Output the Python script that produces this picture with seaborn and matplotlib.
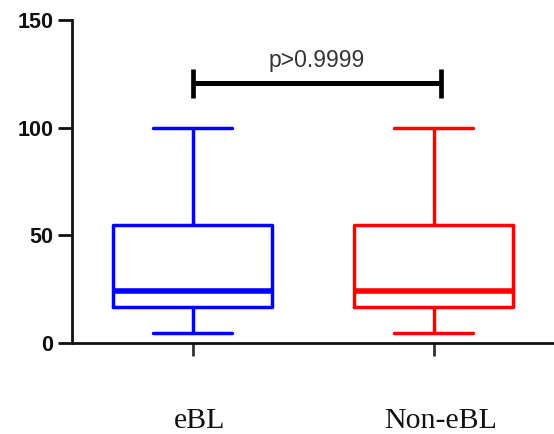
import numpy as np
import pandas as pd
import seaborn as sns
import matplotlib
matplotlib.use("Agg")
import matplotlib.pyplot as plt
import matplotlib.transforms as mtransforms

# ---- data ----
groups = ["eBL", "Non-eBL"]
ebl_values = [4.5, 16.5, 24, 55, 100]       # min, q1, median, q3, max
non_ebl_values = [4.5, 16.5, 24, 55, 100]
colors = {"eBL": "#0000FF", "Non-eBL": "#FF0000"}
yticks = [0, 50, 100, 150]
p_text = "p>0.9999"
sig_y = 120.6

df = pd.DataFrame({
    "group": ["eBL"] * len(ebl_values) + ["Non-eBL"] * len(non_ebl_values),
    "value": ebl_values + non_ebl_values,
})

sns.set_style("ticks")
fig = plt.figure(figsize=(5.54, 4.34), dpi=100)
ax = fig.add_axes([72 / 554, 1 - 343 / 434, 1 - 72 / 554, (343 - 20) / 434])

sns.boxplot(data=df, x="group", y="value", hue="group", palette=colors,
            order=groups, hue_order=groups, dodge=False, fill=False,
            width=0.66, linewidth=2.5, whis=(0, 100), legend=False,
            medianprops={"linewidth": 4.0}, ax=ax)

ax.set_xlim(-0.5, 1.5)
ax.set_ylim(0, 150)
ax.set_yticks(yticks)
ax.set_yticklabels([str(t) for t in yticks], fontfamily="Liberation Sans",
                   fontweight="bold", fontsize=15.5, color="#111111")
ax.set_xlabel("")
ax.set_ylabel("")
ax.set_xticks(range(len(groups)))
ax.set_xticklabels(groups, fontfamily="Liberation Serif", fontsize=21.5, color="#111111")

for s in ["top", "right"]:
    ax.spines[s].set_visible(False)
for s in ["left", "bottom"]:
    ax.spines[s].set_linewidth(2.0)
    ax.spines[s].set_color("#111111")

ax.tick_params(axis="y", length=10, width=2.0, pad=3.5, color="#111111")
ax.tick_params(axis="x", length=9, width=2.0, pad=38, color="#333333")

offset = mtransforms.ScaledTranslation(7 / 100, 0, fig.dpi_scale_trans)
for lab in ax.get_xticklabels():
    lab.set_transform(lab.get_transform() + offset)

# significance bar
x0, x1 = 0.0, 1.03
ax.plot([x0, x1], [sig_y, sig_y], color="black", lw=3.6, solid_capstyle="butt", clip_on=False)
ax.plot([x0, x0], [113.8, 127.3], color="black", lw=3.4, solid_capstyle="butt", clip_on=False)
ax.plot([x1, x1], [113.8, 127.3], color="black", lw=3.4, solid_capstyle="butt", clip_on=False)
ax.text((x0 + x1) / 2, 128.4, p_text, ha="center", va="baseline",
        fontfamily="Liberation Sans", fontsize=16.5, color="#333333")

fig.savefig("out.png", dpi=100)
